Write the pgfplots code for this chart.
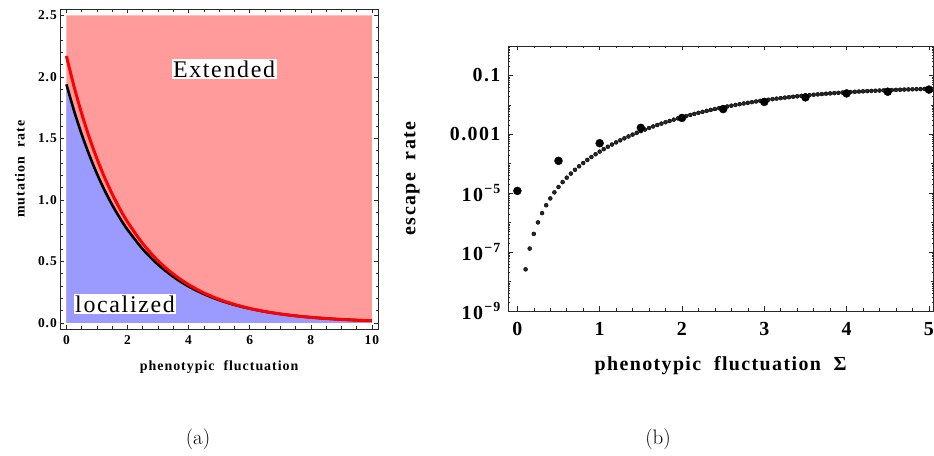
\documentclass[border=0pt]{standalone}
\usepackage{pgfplots}
\pgfplotsset{compat=1.18}
\usepackage{fontspec}
\newfontfamily\tnr{Liberation Serif}[LetterSpace=7]
\definecolor{pinkc}{RGB}{255,155,155}
\definecolor{bluec}{RGB}{155,155,255}
\definecolor{framec}{RGB}{40,40,40}
\pgfplotstableread{
x y
0 1.94
0.25 1.725
0.5 1.534
0.75 1.364
1.0 1.2125
1.25 1.078
1.5 0.9586
1.75 0.8523
2.0 0.7578
2.5 0.5991
3.0 0.4736
3.5 0.3744
4.0 0.2960
4.5 0.2340
5.0 0.1850
5.5 0.1463
6.0 0.1156
6.5 0.0914
7.0 0.0723
7.5 0.0571
8.0 0.0452
8.5 0.0357
9.0 0.0282
9.5 0.0223
10 0.0177
}\blackcurve
\pgfplotstableread{
x y
0 2.17
0.25 1.922
0.5 1.702
0.75 1.507
1.0 1.335
1.25 1.182
1.5 1.047
1.75 0.927
2.0 0.821
2.5 0.644
3.0 0.505
3.5 0.396
4.0 0.3106
4.5 0.2436
5.0 0.1910
5.5 0.1498
6.0 0.1175
6.5 0.0921
7.0 0.0723
7.5 0.0567
8.0 0.0444
8.5 0.0348
9.0 0.0273
9.5 0.0214
10 0.0168
}\redcurve
\pgfplotstableread{
x y
0.10 2.60e-8
0.15 1.32e-7
0.20 4.16e-7
0.25 1.02e-6
0.30 2.11e-6
0.35 3.90e-6
0.40 6.66e-6
0.45 1.07e-5
0.50 1.63e-5
0.55 2.38e-5
0.60 3.37e-5
0.65 4.64e-5
0.70 6.23e-5
0.75 8.21e-5
0.80 1.06e-4
0.85 1.35e-4
0.90 1.70e-4
0.95 2.11e-4
1.00 2.59e-4
1.05 3.14e-4
1.10 3.78e-4
1.15 4.50e-4
1.20 5.33e-4
1.25 6.26e-4
1.30 7.31e-4
1.35 8.47e-4
1.40 9.77e-4
1.45 1.12e-3
1.50 1.28e-3
1.55 1.45e-3
1.60 1.64e-3
1.65 1.85e-3
1.70 2.07e-3
1.75 2.31e-3
1.80 2.57e-3
1.85 2.85e-3
1.90 3.15e-3
1.95 3.47e-3
2.00 3.81e-3
2.05 4.17e-3
2.10 4.54e-3
2.15 4.94e-3
2.20 5.36e-3
2.25 5.80e-3
2.30 6.26e-3
2.35 6.74e-3
2.40 7.23e-3
2.45 7.75e-3
2.50 8.28e-3
2.55 8.83e-3
2.60 9.39e-3
2.65 9.97e-3
2.70 1.056e-2
2.75 1.117e-2
2.80 1.178e-2
2.85 1.241e-2
2.90 1.304e-2
2.95 1.368e-2
3.00 1.433e-2
3.05 1.498e-2
3.10 1.564e-2
3.15 1.629e-2
3.20 1.695e-2
3.25 1.761e-2
3.30 1.827e-2
3.35 1.892e-2
3.40 1.957e-2
3.45 2.022e-2
3.50 2.086e-2
3.55 2.149e-2
3.60 2.212e-2
3.65 2.274e-2
3.70 2.335e-2
3.75 2.395e-2
3.80 2.454e-2
3.85 2.512e-2
3.90 2.569e-2
3.95 2.624e-2
4.00 2.679e-2
4.05 2.732e-2
4.10 2.784e-2
4.15 2.835e-2
4.20 2.885e-2
4.25 2.933e-2
4.30 2.980e-2
4.35 3.026e-2
4.40 3.070e-2
4.45 3.114e-2
4.50 3.156e-2
4.55 3.197e-2
4.60 3.236e-2
4.65 3.275e-2
4.70 3.312e-2
4.75 3.349e-2
4.80 3.384e-2
4.85 3.418e-2
4.90 3.451e-2
4.95 3.483e-2
5.00 3.514e-2
}\smalldots
\pgfplotstableread{
x y
0 1.2e-5
0.5 1.26e-4
1 5.0e-4
1.5 1.66e-3
2 3.6e-3
2.5 7.2e-3
3 1.26e-2
3.5 1.8e-2
4 2.45e-2
4.5 2.8e-2
5 3.3e-2
}\bigdots
\begin{document}
\begin{tikzpicture}[x=1bp,y=1bp]
\path[use as bounding box] (0,0) rectangle (934,456);
% ---------- (a) ----------
\begin{axis}[
  at={(60.3bp,127bp)}, anchor=south west, scale only axis,
  width=317.7bp, height=319.7bp,
  xmin=-0.2, xmax=10.2, ymin=-0.05, ymax=2.55,
  axis line style={draw=framec, line width=0.8pt},
  tick align=inside, tick pos=both,
  xtick={0,2,4,6,8,10}, xticklabels={0,2,4,6,8,10},
  ytick={0,0.5,1,1.5,2,2.5}, yticklabels={0.0,0.5,1.0,1.5,2.0,2.5},
  minor x tick num=3, minor y tick num=4,
  major tick length=4bp, minor tick length=2.5bp,
  every tick/.style={framec, line width=0.6pt},
  ticklabel style={font=\tnr\bfseries\fontsize{13.5}{15}\selectfont},
  xticklabel style={yshift=-3bp},
  xlabel={phenotypic\ \ fluctuation}, ylabel={mutation\ \ rate},
  label style={font=\tnr\bfseries\fontsize{14}{16}\selectfont},
  xlabel style={at={(axis description cs:0.5,-0.119)}, anchor=center},
  ylabel style={at={(axis description cs:-0.127,0.5)}, anchor=center},
]
\addplot[draw=none, fill=pinkc] coordinates {(0,0) (0,2.5) (10,2.5) (10,0)} \closedcycle;
\addplot[draw=none, fill=bluec] table {\blackcurve} \closedcycle;
\addplot[black, line width=2.6bp, smooth] table {\blackcurve};
\addplot[red, line width=3bp, smooth] table {\redcurve};
\node[fill=white, inner sep=1.5bp, font=\tnr\fontsize{24}{26}\selectfont] at (axis cs:5.16,2.065) {Extended};
\node[fill=white, inner sep=1.5bp, font=\tnr\fontsize{24}{26}\selectfont] at (axis cs:1.92,0.153) {localized};
\end{axis}
% ---------- (b) ----------
\begin{axis}[
  at={(508.3bp,145bp)}, anchor=south west, scale only axis,
  width=424.7bp, height=265bp,
  ymode=log, xmin=-0.11, xmax=5.05, ymin=1e-9, ymax=1,
  axis line style={draw=framec, line width=0.8pt},
  tick align=inside, tick pos=both,
  xtick={0,1,2,3,4,5}, xticklabels={0,1,2,3,4,5},
  minor x tick num=4,
  ytick={1e-9,1e-7,1e-5,1e-3,1e-1},
  yticklabels={\textbf{10}\textsuperscript{\textbf{−9}},\textbf{10}\textsuperscript{\textbf{−7}},\textbf{10}\textsuperscript{\textbf{−5}},\textbf{0.001},\textbf{0.1}},
  minor ytick={1e-8,1e-6,1e-4,1e-2,1},
  extra y ticks={2e-9,3e-9,4e-9,5e-9,6e-9,7e-9,8e-9,9e-9,
    2e-8,3e-8,4e-8,5e-8,6e-8,7e-8,8e-8,9e-8,
    2e-7,3e-7,4e-7,5e-7,6e-7,7e-7,8e-7,9e-7,
    2e-6,3e-6,4e-6,5e-6,6e-6,7e-6,8e-6,9e-6,
    2e-5,3e-5,4e-5,5e-5,6e-5,7e-5,8e-5,9e-5,
    2e-4,3e-4,4e-4,5e-4,6e-4,7e-4,8e-4,9e-4,
    2e-3,3e-3,4e-3,5e-3,6e-3,7e-3,8e-3,9e-3,
    2e-2,3e-2,4e-2,5e-2,6e-2,7e-2,8e-2,9e-2,
    0.2,0.3,0.4,0.5,0.6,0.7,0.8,0.9},
  extra y tick labels={},
  extra y tick style={major tick length=1.5bp, every tick/.style={framec, line width=0.4pt}},
  major tick length=4.5bp, minor tick length=2.5bp,
  every tick/.style={framec, line width=0.6pt},
  ticklabel style={font=\tnr\bfseries\fontsize{20}{22}\selectfont},
  xticklabel style={yshift=-8bp},
  yticklabel style={xshift=-3bp},
  xlabel={phenotypic\ \ fluctuation\ \ Σ}, ylabel={escape\ \ rate},
  label style={font=\tnr\bfseries\fontsize{20}{22}\selectfont},
  xlabel style={at={(axis description cs:0.5,-0.2075)}, anchor=center},
  ylabel style={at={(axis description cs:-0.227,0.5)}, anchor=center},
]
\addplot[only marks, mark=*, mark size=2bp, mark options={draw=none, fill=black!85}] table {\smalldots};
\addplot[only marks, mark=*, mark size=4bp, mark options={draw=none, fill=black}] table {\bigdots};
\end{axis}
\node[font=\fontsize{21}{25}\selectfont] at (198,17) {(a)};
\node[font=\fontsize{21}{25}\selectfont] at (658,17) {(b)};
\end{tikzpicture}
\end{document}
